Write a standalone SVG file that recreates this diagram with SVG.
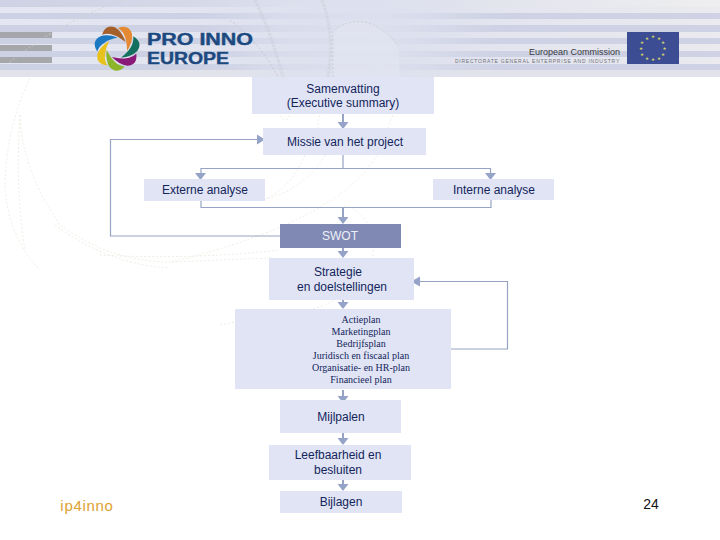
<svg xmlns="http://www.w3.org/2000/svg" width="720" height="540" viewBox="0 0 720 540">
<style>
.n{fill:#e0e4f4}
.t{font-family:"Liberation Sans",Arial,sans-serif;font-size:12px;fill:#14255c;text-anchor:middle}
.s{font-family:"Liberation Serif","Times New Roman",serif;font-size:10px;fill:#14255c;text-anchor:middle}
.c{fill:none;stroke:#96a3c4;stroke-width:1.2}
.a{fill:none;stroke:#96a3c4;stroke-width:2}
.h{fill:#96a3c8;stroke:none}
.d{fill:none;stroke:#e9e9de;stroke-width:.8;stroke-dasharray:2 2}
.g{fill:none;stroke:#c6c8d0;stroke-width:3;stroke-dasharray:3 1;opacity:.35}
</style>
<defs>
<linearGradient id="bg" x1="0" x2="1" y1="0" y2="0"><stop offset="0" stop-color="#cdd2e4"/><stop offset=".5" stop-color="#dcdfeb"/><stop offset="1" stop-color="#eeeeef"/></linearGradient>
<linearGradient id="st" x1="0" x2="1" y1="0" y2="0"><stop offset="0" stop-color="#e4e7f1"/><stop offset=".55" stop-color="#e0e2ee"/><stop offset="1" stop-color="#eaeaef"/></linearGradient>
<linearGradient id="st2" x1="0" x2="1" y1="0" y2="0"><stop offset="0" stop-color="#ccd1e4"/><stop offset="1" stop-color="#ced2e4"/></linearGradient>
<linearGradient id="fade" x1="0" x2="1" y1="0" y2="0"><stop offset="0" stop-color="#dde0ee" stop-opacity="0"/><stop offset=".3" stop-color="#dde0ee" stop-opacity=".75"/><stop offset=".6" stop-color="#dde0ee" stop-opacity=".95"/><stop offset=".72" stop-color="#dde0ee" stop-opacity=".7"/><stop offset="1" stop-color="#dde0ee" stop-opacity="0"/></linearGradient>
<path id="petal" d="M1 -20Q12 -24 15 -14Q16 -6 10 3Q10 -6 8 -11Q6 -17 1 -20Z"/>
</defs>
<rect width="720" height="540" fill="#fff"/>
<g id="header">
<rect width="720" height="77" fill="url(#bg)"/>
<rect y="7" width="720" height="6" fill="url(#st)"/>
<rect y="13" width="720" height="6" fill="url(#st2)"/>
<rect y="19" width="720" height="6" fill="url(#st)"/>
<rect y="25" width="720" height="7" fill="url(#st2)"/>
<rect y="32" width="720" height="6" fill="url(#st)"/>
<rect y="38" width="720" height="6" fill="url(#st2)"/>
<rect y="44" width="720" height="7" fill="url(#st)"/>
<rect y="51" width="720" height="6" fill="url(#st2)"/>
<rect y="57" width="720" height="7" fill="url(#st)"/>
<rect y="64" width="720" height="6" fill="url(#st2)"/>
<rect y="70" width="720" height="7" fill="#e2e3ea"/>
<rect x="200" width="300" height="77" fill="url(#fade)"/>
<path d="M333 77V32Q345 20 365 22Q385 28 398 46L400 77Z" fill="#e2e4f1" opacity=".6"/>
<rect x="0" y="32" width="52" height="6" fill="#a5a7ab"/>
<rect x="0" y="45" width="52" height="6" fill="#a5a7ab"/>
<rect x="0" y="57" width="52" height="6" fill="#a5a7ab"/>
</g>
<g id="background-arcs">
<path class="g" d="M255 0Q272 35 283 77"/>
<path class="g" d="M322 0Q335 35 328 77"/>
<path class="d" d="M0 70Q60 20 125 0" style="stroke:#cfd0d4"/>
<path class="d" d="M230 20Q262 45 278 77" style="stroke:#c0c2cc"/>
<path class="d" d="M333 77V32Q345 20 365 22Q385 28 398 46" style="stroke:#c8c8cc"/>
<path class="d" d="M30 78Q5 130 5 190Q10 240 40 270"/>
<path class="d" d="M20 115Q15 190 25 250"/>
<path class="d" d="M20 115Q22 170 60 225Q110 262 172 262"/>
<path class="d" d="M55 225Q110 265 170 268"/>
<path class="d" d="M290 115Q285 125 280 115"/>
<path class="d" d="M320 115Q317 122 318 128"/>
<path class="d" d="M393 115Q390 122 388 128"/>
<path class="d" d="M305 155Q290 190 262 200"/>
<path class="d" d="M325 155Q305 190 262 200"/>
<path class="d" d="M377 155Q340 220 172 262"/>
<path class="d" d="M172 262Q220 260 272 258"/>
<path class="d" d="M100 255Q190 260 280 250"/>
<path class="d" d="M340 208Q350 200 368 224"/>
<path class="d" d="M373 250V258"/>
<path class="d" d="M313 309Q325 305 335 300"/>
<path class="d" d="M220 325L236 322"/>
</g>
<g id="logo">
<use href="#petal" transform="translate(117 48)" fill="#e58a32"/>
<use href="#petal" transform="translate(117 48) rotate(51.4)" fill="#14705e"/>
<use href="#petal" transform="translate(117 48) rotate(102.9)" fill="#8a1a78"/>
<use href="#petal" transform="translate(117 48) rotate(154.3)" fill="#8cb52a"/>
<use href="#petal" transform="translate(117 48) rotate(205.7)" fill="#e8c21c"/>
<use href="#petal" transform="translate(117 48) rotate(257.1)" fill="#1c78c0"/>
<use href="#petal" transform="translate(117 48) rotate(308.6)" fill="#a55f2a"/>
<text x="147" y="45" font-family="'Liberation Sans',sans-serif" font-weight="700" font-size="16" fill="#1c4a80" stroke="#1c4a80" stroke-width=".4" textLength="106" lengthAdjust="spacingAndGlyphs">PRO INNO</text>
<text x="147" y="64" font-family="'Liberation Sans',sans-serif" font-weight="700" font-size="16" fill="#1c4a80" stroke="#1c4a80" stroke-width=".4" textLength="82" lengthAdjust="spacingAndGlyphs">EUROPE</text>
</g>
<g id="ec">
<text x="620" y="55" text-anchor="end" font-family="'Liberation Sans',sans-serif" font-size="9" fill="#3a3a42">European Commission</text>
<text x="620" y="63" text-anchor="end" font-family="'Liberation Sans',sans-serif" font-size="5" letter-spacing=".76" fill="#70727c">DIRECTORATE GENERAL ENTERPRISE AND INDUSTRY</text>
<rect x="627" y="32" width="52" height="32" fill="#3c4d94"/>
<g fill="#d6d26a" font-family="'DejaVu Sans',sans-serif" font-size="4.5" text-anchor="middle">
<text x="653" y="38">★</text><text x="659" y="39.500">★</text><text x="663" y="44">★</text><text x="664.500" y="50">★</text><text x="663" y="56">★</text><text x="659" y="60">★</text><text x="653" y="61">★</text><text x="647" y="60">★</text><text x="642" y="56">★</text><text x="641" y="50">★</text><text x="642" y="44">★</text><text x="647" y="39.500">★</text>
</g>
</g>
<g id="connectors">
<path class="c" d="M343 155V168.500M201 176V168.500H490.500V176"/>
<path class="c" d="M201 201V207.500H491V200"/>
<path class="c" d="M280 236H110.500V139.500H260"/>
<path class="c" d="M451 349H507.500V281.500H415"/>
<path class="a" d="M343 113V124M343 208V220M343 248V254M343 299V305M343 390V399M343 433V441M343 479V487"/>
<path class="h" d="M337.500 122H348.500L343 129ZM337.500 217H348.500L343 224ZM337.500 251H348.500L343 258ZM337.500 302H348.500L343 309ZM337.500 396H348.500L343 403ZM337.500 438H348.500L343 445ZM337.500 484H348.500L343 491ZM195 173H206L200.500 180ZM485 173H496L490.500 180ZM257 134.500V144.500L265 139.500ZM420 276.500V286.500L411 281.500Z"/>
</g>
<g id="n1"><rect class="n" x="252" y="77" width="182" height="37"/><text class="t" x="343" y="93">Samenvatting</text><text class="t" x="343" y="107">(Executive summary)</text></g>
<g id="n2"><rect class="n" x="263" y="128" width="163" height="27"/><text class="t" x="345" y="146">Missie van het project</text></g>
<g id="n3"><rect class="n" x="144" y="179" width="121" height="22"/><text class="t" x="205" y="194">Externe analyse</text></g>
<g id="n4"><rect class="n" x="433" y="179" width="121" height="21"/><text class="t" x="494" y="194">Interne analyse</text></g>
<g id="n5"><rect x="280" y="224" width="121" height="24" fill="#8089b4"/><text class="t" x="340" y="240" style="fill:#eef0f8">SWOT</text></g>
<g id="n6"><rect class="n" x="269" y="258" width="145" height="42"/><text class="t" x="338" y="276">Strategie</text><text class="t" x="342" y="291">en doelstellingen</text></g>
<g id="n7"><rect class="n" x="235" y="309" width="216" height="80"/>
<text class="s" x="361" y="323">Actieplan</text><text class="s" x="361" y="335">Marketingplan</text><text class="s" x="361" y="347">Bedrijfsplan</text><text class="s" x="361" y="359">Juridisch en fiscaal plan</text><text class="s" x="361" y="371">Organisatie- en HR-plan</text><text class="s" x="361" y="383">Financieel plan</text></g>
<g id="n8"><rect class="n" x="280" y="400" width="121" height="33"/><text class="t" x="341" y="421">Mijlpalen</text></g>
<g id="n9"><rect class="n" x="269" y="445" width="142" height="35"/><text class="t" x="338" y="459">Leefbaarheid en</text><text class="t" x="338" y="474">besluiten</text></g>
<g id="n10"><rect class="n" x="280" y="491" width="122" height="22"/><text class="t" x="341" y="506">Bijlagen</text></g>
<text x="87" y="511" text-anchor="middle" font-family="'Liberation Sans',sans-serif" font-size="15" letter-spacing=".7" fill="#e0a030">ip4inno</text>
<text x="651" y="509" text-anchor="middle" font-family="'Liberation Sans',sans-serif" font-size="14" fill="#111">24</text>
</svg>
